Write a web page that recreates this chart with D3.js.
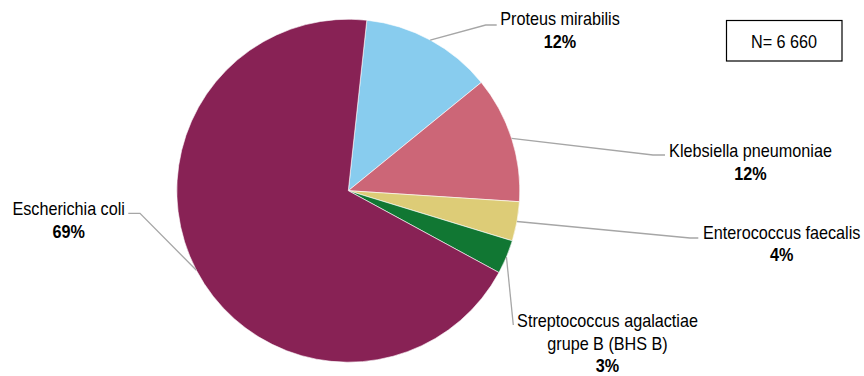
<!DOCTYPE html>
<html>
<head>
<meta charset="utf-8">
<script src="https://cdn.jsdelivr.net/npm/d3@7"></script>
<style>
    body { margin: 0; background: #ffffff; }
    .chart { width: 864px; height: 376px; position: relative; }
    text { font-family: "Liberation Sans", Arial, sans-serif; fill: #000000; }
</style>
</head>
<body>
<div class="chart"></div>
<script>
const species = ["Proteus mirabilis", "Klebsiella pneumoniae", "Enterococcus faecalis",
    "Streptococcus agalactiae grupe B (BHS B)", "Escherichia coli"];
const shares = [12.4, 11.9, 3.7, 3.2, 68.8];
const colors = ["#88CCEE", "#CC6677", "#DDCC77", "#117733", "#882255"];
const labelLines = [
    ["Proteus mirabilis"],
    ["Klebsiella pneumoniae"],
    ["Enterococcus faecalis"],
    ["Streptococcus agalactiae", "grupe B (BHS B)"],
    ["Escherichia coli"]
];
const totalN = "N= 6 660";

// where each label sits and where its leader line bends
const labelLayout = [
    { cx: 560, y: 25, knee: [485.7, 25], end: [496.7, 25] },
    { cx: 750.5, y: 157, knee: [653, 155], end: [665, 155] },
    { cx: 781.7, y: 238.5, knee: [690, 238], end: [698.3, 238] },
    { cx: 607.5, y: 327, knee: null, end: [513.3, 325] },
    { cx: 68.7, y: 215, knee: [140, 213.3], end: [128.3, 213.3] }
];

const width = 864, height = 376;
const centerX = 348.3, centerY = 190.7, radius = 171.5;
const fontSize = 18.5, squeeze = 0.875, lineGap = 22.5;

function drawLabel(g, x, y, str, bold) {
    g.append("text")
        .attr("transform", `translate(${x},${y}) scale(${squeeze},1)`)
        .attr("text-anchor", "middle")
        .style("font-size", fontSize + "px")
        .style("font-weight", bold ? "bold" : "normal")
        .text(str);
}

function display() {
    const svg = d3.select(".chart")
        .append("svg")
        .attr("width", width)
        .attr("height", height);

    const data = species.map((name, i) => ({ name: name, value: shares[i], color: colors[i], idx: i }));

    const pie = d3.pie()
        .sort(null)
        .value(d => d.value)
        .startAngle(6.2 * Math.PI / 180)
        .endAngle(6.2 * Math.PI / 180 + 2 * Math.PI);

    const arc = d3.arc().innerRadius(0).outerRadius(radius);
    const arcs = pie(data);

    const pieG = svg.append("g")
        .attr("transform", `translate(${centerX},${centerY})`);

    pieG.selectAll("path")
        .data(arcs)
        .enter()
        .append("path")
        .attr("d", arc)
        .attr("fill", d => d.data.color)
        .attr("stroke", "#ffffff")
        .attr("stroke-width", 0.6);

    // leader lines from the slice edge to the label
    const lineG = svg.append("g");
    arcs.forEach((a, i) => {
        const mid = (a.startAngle + a.endAngle) / 2;
        const ex = centerX + radius * Math.sin(mid);
        const ey = centerY - radius * Math.cos(mid);
        const lay = labelLayout[i];
        const pts = [[ex, ey]];
        if (lay.knee) pts.push(lay.knee);
        pts.push(lay.end);
        lineG.append("path")
            .attr("d", d3.line()(pts))
            .attr("fill", "none")
            .attr("stroke", "#A6A6A6")
            .attr("stroke-width", 1.3);
    });

    const textG = svg.append("g");
    arcs.forEach((a, i) => {
        const lay = labelLayout[i];
        const lines = labelLines[i];
        lines.forEach((l, j) => drawLabel(textG, lay.cx, lay.y + j * lineGap, l, false));
        drawLabel(textG, lay.cx, lay.y + lines.length * lineGap, Math.round(a.data.value) + "%", true);
    });

    // N box
    svg.append("rect")
        .attr("x", 726.5)
        .attr("y", 20.5)
        .attr("width", 115.5)
        .attr("height", 40.5)
        .attr("fill", "#ffffff")
        .attr("stroke", "#000000")
        .attr("stroke-width", 1.2);
    drawLabel(svg, 784, 48, totalN, false);
}

window.onload = function() {
    display();
};
</script>
</body>
</html>
